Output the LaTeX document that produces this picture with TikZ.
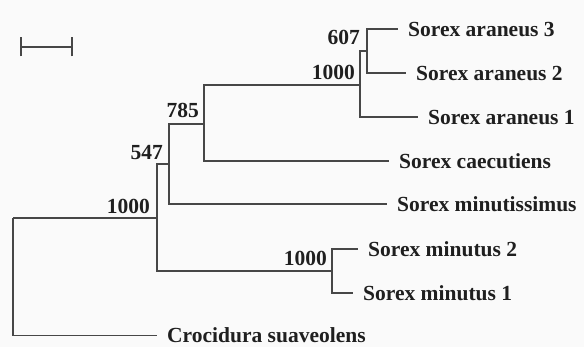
\documentclass[tikz,border=0pt]{standalone}
\usepackage{fontspec}
\setmainfont{Liberation Serif}
\begin{document}
\begin{tikzpicture}[x=1pt,y=-1pt,
  br/.style={line width=1.8pt, draw=black!72},
  lbl/.style={inner ysep=0pt, text height=15pt, text depth=0pt,
    font=\fontsize{21.5}{22}\selectfont\bfseries, text=black!88},
  leaf/.style={lbl, anchor=west, inner xsep=10pt},
  bs/.style={lbl, anchor=east, inner xsep=0pt}]
\fill[black!2] (0,0) rectangle (584,347);
\useasboundingbox (0,0) rectangle (584,347);
% scale bar
\coordinate (sbL) at (21,47);
\coordinate (sbR) at (72,47);
\draw[br] (sbL) -- (sbR);
\draw[br] ([yshift=-9.5pt]sbL) -- ([yshift=9.5pt]sbL);
\draw[br] ([yshift=-9.5pt]sbR) -- ([yshift=9.5pt]sbR);
% internal nodes
\coordinate (root) at (13,218);
\coordinate (nB) at (157,218);
\coordinate (n547) at (169,164);
\coordinate (n785) at (204,124);
\coordinate (nA) at (360,85);
\coordinate (n607) at (367,51);
\coordinate (nM) at (332,271);
% leaves
\node[leaf] (a3) at (398,29) {Sorex araneus 3};
\node[leaf] (a2) at (406,73) {Sorex araneus 2};
\node[leaf] (a1) at (418,117) {Sorex araneus 1};
\node[leaf] (cae) at (389,161) {Sorex caecutiens};
\node[leaf] (mts) at (387,204) {Sorex minutissimus};
\node[leaf] (m2) at (358,249) {Sorex minutus 2};
\node[leaf] (m1) at (353,293) {Sorex minutus 1};
\node[leaf] (cro) at (157,335.5) {Crocidura suaveolens};
% branches
\draw[br] (n607) |- (a3.west);
\draw[br] (n607) |- (a2.west);
\draw[br] (nA) |- (n607);
\draw[br] (nA) |- (a1.west);
\draw[br] (n785) |- (nA);
\draw[br] (n785) |- (cae.west);
\draw[br] (n547) |- (n785);
\draw[br] (n547) |- (mts.west);
\draw[br] (nB) |- (n547);
\draw[br] (nB) |- (nM);
\draw[br] (nM) |- (m2.west);
\draw[br] (nM) |- (m1.west);
\draw[br] (root) -- (nB);
\draw[br] (root) |- (cro.west);
% bootstrap values
\node[bs] (b607) at (360,37) {607};
\node[bs] (bA) at (355,72) {1000};
\node[bs] (b785) at (199,110) {785};
\node[bs] (b547) at (163,152) {547};
\node[bs] (bB) at (150,206) {1000};
\node[bs] (bM) at (327,258) {1000};
\end{tikzpicture}
\end{document}
